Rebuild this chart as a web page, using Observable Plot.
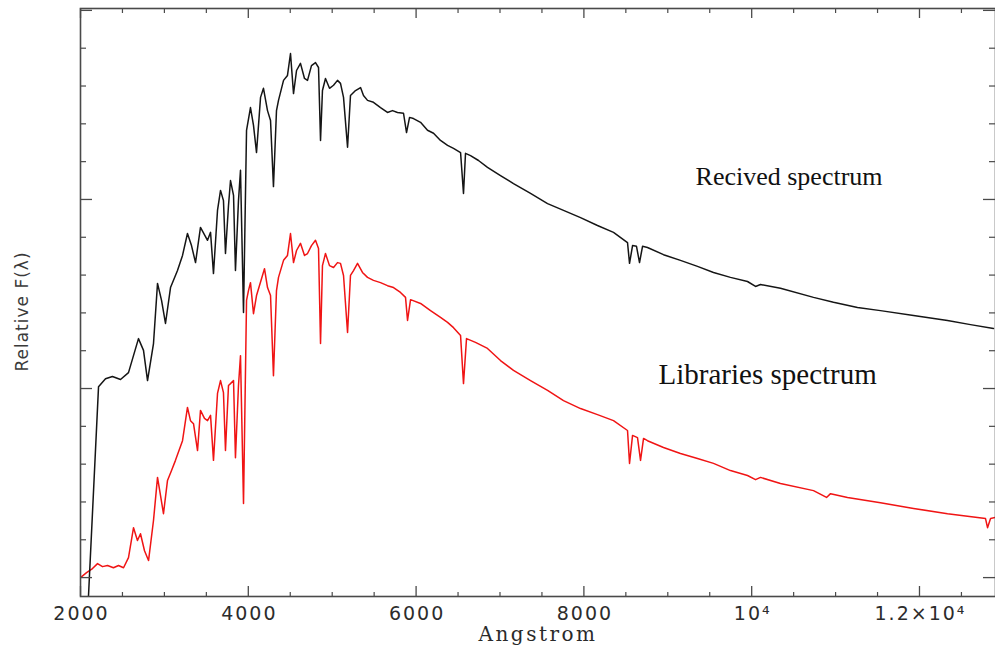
<!DOCTYPE html>
<html>
<head>
<meta charset="utf-8">
<script src="https://cdn.jsdelivr.net/npm/d3@7"></script>
<script src="https://cdn.jsdelivr.net/npm/@observablehq/plot@0.6"></script>
<style>
  html, body { margin: 0; padding: 0; background: #fff; }
  #chart svg { display: block; }
</style>
</head>
<body>
<div id="chart"></div>
<script>
// Received spectrum: [wavelength (Å), relative flux]
const received = [
  [2095, -0.5], [2215, 5.05], [2298, 5.26], [2381, 5.32], [2477, 5.24], [2572, 5.42],
  [2691, 6.32], [2751, 6.01], [2799, 5.21], [2870, 6.19], [2918, 7.78], [2966, 7.33],
  [3013, 6.72], [3073, 7.67], [3156, 8.12], [3216, 8.52], [3275, 9.10], [3323, 8.78],
  [3371, 8.33], [3430, 9.26], [3514, 8.92], [3550, 9.13], [3585, 8.04], [3633, 9.71],
  [3669, 10.24], [3704, 9.97], [3728, 8.57], [3764, 9.84], [3788, 10.50], [3824, 10.11],
  [3847, 8.12], [3883, 9.97], [3907, 10.77], [3943, 7.01], [3979, 11.83], [4026, 12.43],
  [4062, 11.96], [4098, 11.24], [4146, 12.70], [4181, 12.94], [4229, 12.35], [4265, 12.09],
  [4300, 10.34], [4336, 12.35], [4360, 12.62], [4420, 13.15], [4467, 13.28], [4503, 13.86],
  [4539, 12.80], [4575, 13.41], [4622, 13.60], [4670, 13.20], [4706, 13.15], [4753, 13.54],
  [4801, 13.62], [4837, 13.49], [4861, 11.56], [4884, 12.88], [4920, 13.20], [4968, 12.94],
  [5016, 13.02], [5063, 13.15], [5099, 13.07], [5135, 12.70], [5183, 11.38], [5218, 12.75],
  [5278, 12.88], [5338, 12.96], [5373, 12.75], [5421, 12.62], [5492, 12.57], [5576, 12.43],
  [5659, 12.30], [5719, 12.35], [5778, 12.30], [5850, 12.28], [5886, 11.77], [5922, 12.17],
  [5969, 12.14], [6053, 12.04], [6136, 11.83], [6208, 11.75], [6291, 11.56], [6375, 11.43],
  [6446, 11.35], [6530, 11.24], [6565, 10.16], [6589, 11.22], [6649, 11.16], [6744, 11.03],
  [6851, 10.85], [7006, 10.63], [7161, 10.42], [7364, 10.16], [7567, 9.89], [7757, 9.71],
  [7960, 9.52], [8162, 9.31], [8353, 9.13], [8520, 8.86], [8544, 8.31], [8580, 8.78],
  [8627, 8.76], [8663, 8.33], [8699, 8.76], [8758, 8.73], [8949, 8.54], [9151, 8.39],
  [9354, 8.23], [9545, 8.07], [9747, 7.94], [9950, 7.83], [10046, 7.70], [10105, 7.75],
  [10343, 7.65], [10737, 7.41], [10975, 7.28], [11261, 7.14], [11535, 7.06], [11929, 6.93],
  [12334, 6.80], [12608, 6.69], [12882, 6.59]
];

// Library spectrum: [wavelength (Å), relative flux]
const library = [
  [2000, 0.00], [2072, 0.13], [2143, 0.24], [2203, 0.37], [2262, 0.29], [2322, 0.32],
  [2393, 0.26], [2453, 0.32], [2513, 0.26], [2572, 0.53], [2632, 1.32], [2679, 0.98],
  [2715, 1.16], [2763, 0.71], [2811, 0.45], [2870, 1.51], [2918, 2.65], [2954, 2.17],
  [2989, 1.69], [3037, 2.57], [3085, 2.83], [3132, 3.10], [3216, 3.62], [3275, 4.50],
  [3311, 4.15], [3347, 4.07], [3395, 3.36], [3430, 4.42], [3478, 4.21], [3514, 4.15],
  [3550, 4.29], [3585, 3.10], [3633, 4.87], [3669, 5.21], [3704, 4.89], [3728, 3.36],
  [3764, 5.08], [3788, 5.13], [3824, 5.21], [3847, 3.17], [3883, 5.08], [3907, 5.87],
  [3943, 1.96], [3979, 7.33], [4002, 7.59], [4026, 7.80], [4062, 6.98], [4098, 7.46],
  [4169, 7.99], [4193, 8.17], [4229, 7.67], [4265, 7.46], [4300, 5.34], [4336, 7.59],
  [4360, 7.94], [4420, 8.39], [4467, 8.52], [4503, 9.10], [4539, 8.33], [4575, 8.65],
  [4622, 8.84], [4670, 8.52], [4706, 8.57], [4753, 8.78], [4801, 8.92], [4837, 8.70],
  [4861, 6.19], [4884, 8.25], [4920, 8.57], [4968, 8.25], [5016, 8.20], [5063, 8.33],
  [5099, 8.31], [5135, 7.99], [5183, 6.48], [5218, 7.99], [5254, 8.12], [5302, 8.31],
  [5361, 8.07], [5421, 7.94], [5492, 7.86], [5576, 7.80], [5659, 7.72], [5731, 7.67],
  [5814, 7.54], [5874, 7.41], [5898, 6.80], [5934, 7.35], [6053, 7.25], [6172, 7.06],
  [6291, 6.88], [6375, 6.75], [6446, 6.61], [6530, 6.40], [6565, 5.13], [6601, 6.32],
  [6708, 6.22], [6851, 6.06], [7006, 5.74], [7161, 5.48], [7364, 5.21], [7567, 4.95],
  [7757, 4.68], [7960, 4.47], [8162, 4.31], [8353, 4.15], [8520, 3.89], [8544, 3.02],
  [8580, 3.76], [8639, 3.70], [8675, 3.10], [8711, 3.68], [8758, 3.62], [8949, 3.44],
  [9151, 3.28], [9354, 3.15], [9545, 3.02], [9747, 2.83], [9950, 2.70], [10046, 2.59],
  [10105, 2.65], [10343, 2.49], [10737, 2.30], [10892, 2.12], [10940, 2.22], [11142, 2.12],
  [11535, 1.98], [11929, 1.83], [12334, 1.69], [12787, 1.56], [12811, 1.32], [12847, 1.56],
  [12906, 1.59]
];

// Axis ticks and labels
const xTickValues = [2000, 4000, 6000, 8000, 10000, 12000];
const xTickLabels = ["2000", "4000", "6000", "8000", "10⁴", "1.2×10⁴"];
const yMajorTicks = [0, 5, 10, 15];
const seriesNames = ["Recived spectrum", "Libraries spectrum"];
const xTitle = "Angstrom";
const yTitle = "Relative F(λ)";

const W = 995, H = 646;
const mL = 80, mR = 0, mT = 8, mB = 50;
const innerW = W - mL - mR, innerH = H - mT - mB;

const xMinor = d3.range(2500, 12906, 500).filter(d => d % 2000 !== 0);
const yMinor = d3.range(0, 16).filter(d => d % 5 !== 0);

const axisColor = "#4a4a4a";

const plot = Plot.plot({
  width: W,
  height: H,
  marginLeft: mL,
  marginRight: mR,
  marginTop: mT,
  marginBottom: mB,
  style: {background: "#fff", overflow: "visible"},
  x: {domain: [2000, 12906], axis: null},
  y: {domain: [-0.5, 15.05], axis: null},
  marks: [
    // spectra
    Plot.line(library, {x: d => d[0], y: d => d[1], stroke: "#f01414", strokeWidth: 1.5, clip: true}),
    Plot.line(received, {x: d => d[0], y: d => d[1], stroke: "#151515", strokeWidth: 1.5, clip: true}),

    // frame and inward ticks on all four sides
    Plot.frame({stroke: axisColor, strokeWidth: 1.6}),
    Plot.ruleX(xTickValues, {stroke: axisColor, strokeWidth: 1.3, insetTop: innerH - 10}),
    Plot.ruleX(xMinor, {stroke: axisColor, strokeWidth: 1.2, insetTop: innerH - 4}),
    Plot.ruleX(xTickValues, {stroke: axisColor, strokeWidth: 1.3, insetBottom: innerH - 10}),
    Plot.ruleX(xMinor, {stroke: axisColor, strokeWidth: 1.2, insetBottom: innerH - 5}),
    Plot.ruleY(yMajorTicks, {stroke: axisColor, strokeWidth: 1.3, insetRight: innerW - 12}),
    Plot.ruleY(yMinor, {stroke: axisColor, strokeWidth: 1.2, insetRight: innerW - 6}),
    Plot.ruleY(yMajorTicks, {stroke: axisColor, strokeWidth: 1.3, insetLeft: innerW - 12}),
    Plot.ruleY(yMinor, {stroke: axisColor, strokeWidth: 1.2, insetLeft: innerW - 6}),

    // x tick labels
    Plot.text(xTickValues, {
      x: d => d, text: (d, i) => xTickLabels[i],
      frameAnchor: "bottom", lineAnchor: "bottom", textAnchor: "middle",
      dy: 23, dx: 1,
      fontFamily: "DejaVu Sans", fontSize: 19, fill: "#2c2c2c"
    }),

    // axis titles
    Plot.text([xTitle], {
      frameAnchor: "bottom", text: d => d, dy: 44, dx: 0,
      lineAnchor: "bottom", textAnchor: "middle",
      fontFamily: "DejaVu Serif", fontSize: 20, fill: "#2a2a2a"
    }),
    Plot.text([yTitle], {
      frameAnchor: "left", text: d => d, rotate: -90, dx: -58, dy: 9,
      textAnchor: "middle", lineAnchor: "middle",
      fontFamily: "DejaVu Sans", fontSize: 17, fill: "#3a3a3a"
    }),

    // series labels
    Plot.text([seriesNames[0]], {
      x: 9331, y: 10.37, text: d => d,
      textAnchor: "start", lineAnchor: "bottom",
      fontFamily: "Liberation Serif", fontSize: 26, fill: "#111"
    }),
    Plot.text([seriesNames[1]], {
      x: 8890, y: 5.11, text: d => d,
      textAnchor: "start", lineAnchor: "bottom",
      fontFamily: "Liberation Serif", fontSize: 29, fill: "#111"
    })
  ]
});

// wide lettering for the axis text
d3.select(plot).selectAll("text").each(function() {
  const t = this.textContent;
  if (xTickLabels.includes(t)) this.style.letterSpacing = "2px";
  else if (t === xTitle) this.style.letterSpacing = "2.5px";
  else if (t === yTitle) this.style.letterSpacing = "1px";
});

document.getElementById("chart").appendChild(plot);
</script>
</body>
</html>
